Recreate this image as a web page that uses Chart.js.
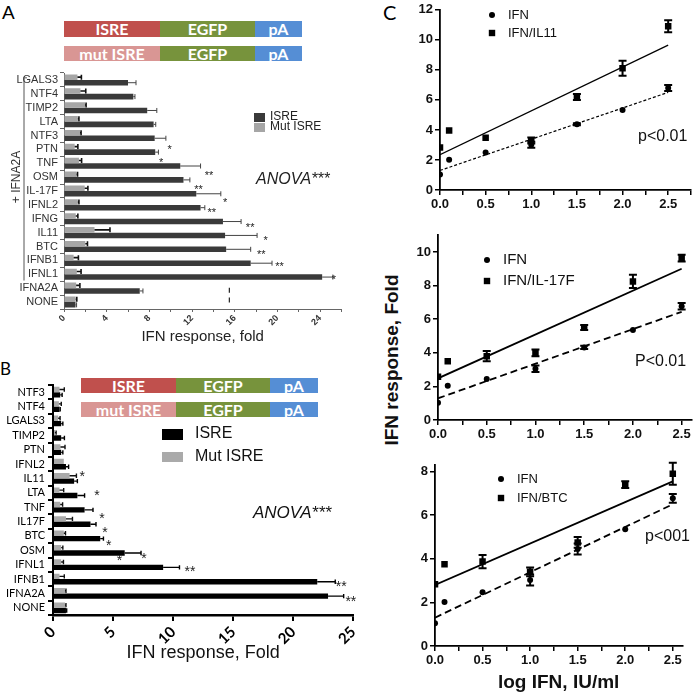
<!DOCTYPE html>
<html><head><meta charset="utf-8">
<script src="https://cdn.jsdelivr.net/npm/chart.js@4.4.1/dist/chart.umd.min.js"></script>
<style>
body{margin:0;background:#fff;}
#page{position:relative;width:696px;height:696px;overflow:hidden;background:#fff;font-family:"Liberation Sans",Arial,sans-serif;}
canvas{position:absolute;}
.box{position:absolute;display:flex;align-items:center;justify-content:center;color:#fff;font-family:Lato,"Noto Sans",sans-serif;font-weight:bold;font-size:16px;line-height:1;}
.lbl{position:absolute;line-height:1;white-space:nowrap;}
</style></head><body><div id="page">
<div class="lbl" style="left:2px;top:3px;font-size:19px;font-family:'Liberation Sans',Arial;">A</div>
<div class="lbl" style="left:0px;top:360px;font-size:17px;font-family:Lato,sans-serif;">B</div>
<div class="lbl" style="left:383px;top:2px;font-size:20px;font-family:Lato,sans-serif;">C</div>

<div class="box" style="left:64px;top:21px;width:96px;height:16px;background:#c0504d;">ISRE</div>
<div class="box" style="left:160px;top:21px;width:95px;height:16px;background:#77933c;">EGFP</div>
<div class="box" style="left:255px;top:21px;width:47px;height:16px;background:#558ed5;">pA</div>
<div class="box" style="left:64px;top:46px;width:96px;height:15px;background:#d99694;">mut ISRE</div>
<div class="box" style="left:160px;top:46px;width:95px;height:15px;background:#77933c;">EGFP</div>
<div class="box" style="left:255px;top:46px;width:47px;height:15px;background:#558ed5;">pA</div>

<div class="box" style="left:81px;top:378px;width:95px;height:15px;background:#c0504d;">ISRE</div>
<div class="box" style="left:176px;top:378px;width:94px;height:15px;background:#77933c;">EGFP</div>
<div class="box" style="left:270px;top:378px;width:48px;height:15px;background:#558ed5;">pA</div>
<div class="box" style="left:81px;top:402px;width:95px;height:15px;background:#d99694;">mut ISRE</div>
<div class="box" style="left:176px;top:402px;width:94px;height:15px;background:#77933c;">EGFP</div>
<div class="box" style="left:270px;top:402px;width:48px;height:15px;background:#558ed5;">pA</div>

<div class="lbl" style="left:292px;top:349px;width:200px;height:22px;line-height:22px;text-align:center;transform:rotate(-90deg);font-weight:bold;font-size:19px;color:#111;">IFN response, Fold</div>

<canvas id="cA" width="350" height="290" style="left:0;top:60px;"></canvas>
<canvas id="cB" width="368" height="321" style="left:0;top:375px;"></canvas>
<canvas id="c1" width="301" height="215" style="left:395px;top:0;"></canvas>
<canvas id="c2" width="301" height="222" style="left:395px;top:222px;"></canvas>
<canvas id="c3" width="301" height="246" style="left:395px;top:450px;"></canvas>
</div>
<script>
// ---------- Panel A data ----------
const catsA = ['LGALS3','NTF4','TIMP2','LTA','NTF3','PTN','TNF','OSM','IL-17F','IFNL2','IFNG','IL11','BTC','IFNB1','IFNL1','IFNA2A','NONE'];
const isreA = [6.0, 6.5, 7.8, 8.4, 8.5, 8.55, 10.9, 11.2, 12.4, 12.8, 14.9, 15.1, 15.2, 17.5, 24.2, 7.1, 1.08];
const isreErrA = [0.75, 0.15, 0.9, 0.2, 1.05, 0.3, 1.9, 0.6, 2.3, 0.4, 1.7, 3.0, 2.3, 2.0, 1.0, 0.3, 0.1];
const mutA = [1.26, 1.54, 1.97, 1.3, 1.5, 1.0, 1.4, 1.17, 1.94, 1.3, 1.1, 2.86, 2.0, 0.9, 1.2, 1.14, 1.1];
const mutErrA = [0.37, 0.5, 0.1, 0.1, 0.1, 0.3, 0.25, 0.1, 0.3, 0.1, 0.2, 1.45, 0.2, 0.45, 0.4, 0.35, 0.1];
const ticksA = [0, 4, 8, 12, 16, 20, 24];
const starIdxA = [4.82, 5.75, 6.7, 7.7, 8.7, 9.4, 10.5, 11.4, 12.4, 13.3, 14.2];
const starXA = [9.9, 9.1, 13.6, 12.6, 15.1, 13.85, 17.45, 18.9, 18.5, 20.2, 25.3];
const starTxtA = ['*','*','**','**','*','**','**','*','**','**','*'];

// ---------- Panel B data ----------
const catsB = ['NTF3','NTF4','LGALS3','TIMP2','PTN','IFNL2','IL11','LTA','TNF','IL17F','BTC','OSM','IFNL1','IFNB1','IFNA2A','NONE'];
const isreB = [0.6, 0.54, 0.68, 0.68, 0.68, 1.08, 1.76, 2.03, 2.63, 3.12, 3.93, 5.97, 9.17, 22.0, 22.9, 1.08];
const isreErrB = [0.16, 0.06, 0.14, 0.27, 0.14, 0.22, 0.27, 0.6, 0.7, 0.46, 0.27, 1.36, 1.36, 1.5, 1.3, 0.06];
const mutB = [0.54, 0.49, 0.43, 0.16, 0.62, 0.9, 1.38, 0.54, 0.6, 1.08, 0.9, 0.68, 0.68, 0.54, 1.0, 1.0];
const mutErrB = [0.4, 0.2, 0.16, 0.1, 0.38, 0.0, 0.57, 0.35, 0.2, 0.54, 0.14, 0.14, 0.19, 0.4, 0.08, 0.08];
const starIdxB = [5.7, 6.96, 8.56, 9.53, 10.5, 11.48, 11.4, 12.3, 13.29, 14.33];
const starXB = [2.44, 3.66, 4.07, 4.32, 4.64, 5.54, 7.57, 11.4, 24.0, 24.8];
const starTxtB = ['*','*','*','*','*','*','*','**','**','**'];

// ---------- Panel C data ----------
const doseX = [0, 0.1, 0.5, 1.0, 1.5, 2.0, 2.5];
const fitX = [0, 2.5];
const ifn1 = [1.04, 2.02, 2.5, 3.02, 4.38, 5.33, 6.8];
const ifn1Err = [0, 0, 0, 0.2, 0.06, 0, 0.2];
const il11 = [2.83, 3.96, 3.48, 3.3, 6.2, 8.1, 10.9];
const il11Err = [0, 0, 0, 0.2, 0.2, 0.5, 0.4];
const fitIl11 = [2.35, 9.65];
const fitIfn1 = [1.3, 6.5];

const ifn2 = [1.03, 2.04, 2.44, 3.05, 4.32, 5.35, 6.77];
const ifn2Err = [0, 0, 0, 0.2, 0.1, 0, 0.2];
const il17f = [2.57, 3.5, 3.8, 4.0, 5.5, 8.25, 9.64];
const il17fErr = [0, 0, 0.3, 0.2, 0.15, 0.4, 0.2];
const fitIl17f = [2.48, 9.0];
const fitIfn2 = [1.29, 6.44];

const ifn3 = [1.04, 2.02, 2.46, 3.03, 4.45, 5.35, 6.77];
const ifn3Err = [0, 0, 0, 0.25, 0.25, 0, 0.2];
const btc = [2.83, 3.75, 3.87, 3.4, 4.75, 7.4, 7.9];
const btcErr = [0, 0, 0.3, 0.2, 0.25, 0.15, 0.5];
const fitBtc = [2.8, 7.55];
const fitIfn3 = [1.3, 6.5];

// ---------- helpers ----------
const F = "'Liberation Sans', Arial, sans-serif";
const FL = "Lato, 'Open Sans', sans-serif";
const zip = (xs, ys) => xs.map((x, i) => ({x: x, y: ys[i]}));

function barErrors(chart, di, errs, color, lw, capFrac) {
  const ctx = chart.ctx, xs = chart.scales.x, ds = chart.data.datasets[di];
  const meta = chart.getDatasetMeta(di);
  ctx.save(); ctx.strokeStyle = color; ctx.lineWidth = lw;
  meta.data.forEach((el, j) => {
    const e = errs[j]; if (!e) return;
    const x1 = xs.getPixelForValue(ds.data[j]), x2 = xs.getPixelForValue(ds.data[j] + e);
    const h = el.height * capFrac;
    ctx.beginPath(); ctx.moveTo(x1, el.y); ctx.lineTo(x2, el.y);
    ctx.moveTo(x2, el.y - h / 2); ctx.lineTo(x2, el.y + h / 2); ctx.stroke();
  });
  ctx.restore();
}
function stars(chart, idx, xv, txt, size) {
  const ctx = chart.ctx, xs = chart.scales.x, ys = chart.scales.y;
  ctx.save(); ctx.fillStyle = '#222'; ctx.font = size + 'px ' + F;
  ctx.textAlign = 'center'; ctx.textBaseline = 'middle';
  idx.forEach((v, i) => ctx.fillText(txt[i], xs.getPixelForValue(xv[i]), ys.getPixelForValue(v) + size * 0.25));
  ctx.restore();
}
function pointErrors(chart, di, errs, lw, capW) {
  const ctx = chart.ctx, ys = chart.scales.y, ds = chart.data.datasets[di];
  const meta = chart.getDatasetMeta(di);
  ctx.save(); ctx.strokeStyle = '#000'; ctx.lineWidth = lw;
  meta.data.forEach((el, j) => {
    const e = errs[j]; if (!e) return;
    const v = ds.data[j].y;
    const y1 = ys.getPixelForValue(v - e), y2 = ys.getPixelForValue(v + e);
    ctx.beginPath(); ctx.moveTo(el.x, y1); ctx.lineTo(el.x, y2);
    ctx.moveTo(el.x - capW / 2, y1); ctx.lineTo(el.x + capW / 2, y1);
    ctx.moveTo(el.x - capW / 2, y2); ctx.lineTo(el.x + capW / 2, y2);
    ctx.stroke();
  });
  ctx.restore();
}

// ---------- Panel A ----------
const extrasA = {id: 'extrasA', afterDatasetsDraw(chart) {
  const ctx = chart.ctx, xs = chart.scales.x, ys = chart.scales.y;
  barErrors(chart, 0, mutErrA, '#111', 1.6, 0.9);
  barErrors(chart, 1, isreErrA, '#444', 1, 0.9);
  stars(chart, starIdxA, starXA, starTxtA, 11);
  // dashed marker
  ctx.save(); ctx.strokeStyle = '#222'; ctx.lineWidth = 1.2;
  [15.15, 15.85].forEach(v => {
    const x = xs.getPixelForValue(15.5), y = ys.getPixelForValue(v);
    ctx.beginPath(); ctx.moveTo(x, y - 2.5); ctx.lineTo(x, y + 2.5); ctx.stroke();
  });
  // bracket
  const yTop = ys.getPixelForValue(-0.15), yBot = ys.getPixelForValue(14.45);
  ctx.strokeStyle = '#555'; ctx.lineWidth = 1;
  ctx.beginPath(); ctx.moveTo(27, yTop); ctx.lineTo(24, yTop); ctx.lineTo(24, yBot); ctx.stroke();
  ctx.fillStyle = '#333'; ctx.font = '12px ' + F; ctx.textAlign = 'center'; ctx.textBaseline = 'middle';
  ctx.translate(17, 117); ctx.rotate(-Math.PI / 2); ctx.fillText('+ IFNA2A', 0, 0);
  ctx.restore();
  // legend
  ctx.save();
  ctx.fillStyle = '#3a3a3a'; ctx.fillRect(254, 53, 11, 9);
  ctx.fillStyle = '#a6a6a6'; ctx.fillRect(254, 63, 11, 9);
  ctx.fillStyle = '#222'; ctx.font = '12px ' + F; ctx.textAlign = 'left'; ctx.textBaseline = 'middle';
  ctx.fillText('ISRE', 270, 57); ctx.fillText('Mut ISRE', 270, 67);
  ctx.font = 'italic 16px ' + F; ctx.fillText('ANOVA***', 256, 120);
  ctx.restore();
}};

new Chart(document.getElementById('cA'), {
  type: 'bar',
  data: {labels: catsA, datasets: [
    {label: 'Mut ISRE', data: mutA, backgroundColor: '#a6a6a6', categoryPercentage: 0.8, barPercentage: 1},
    {label: 'ISRE', data: isreA, backgroundColor: '#3a3a3a', categoryPercentage: 0.8, barPercentage: 1}
  ]},
  options: {
    indexAxis: 'y', responsive: false, animation: false,
    layout: {padding: {top: 13, right: 4, bottom: 4, left: 0}},
    plugins: {legend: {display: false}, tooltip: {enabled: false}},
    scales: {
      x: {type: 'linear', min: 0, max: 26, afterFit: s => { s.height = 37; },
        ticks: {stepSize: 2, autoSkip: false, minRotation: 45, maxRotation: 45, padding: 1,
          font: {family: F, size: 9, weight: 'bold'}, color: '#333',
          callback: v => ticksA.includes(v) ? String(v) : ''},
        grid: {drawOnChartArea: false, tickLength: 3, color: '#666'},
        border: {color: '#666'},
        title: {display: true, text: 'IFN response, fold', font: {family: F, size: 15}, color: '#222', padding: 0}},
      y: {afterFit: s => { s.width = 64; },
        ticks: {autoSkip: false, font: {family: F, size: 11}, color: '#333', padding: 2},
        grid: {drawOnChartArea: false, tickLength: 4, color: '#666'},
        border: {color: '#666'}}
    }
  },
  plugins: [extrasA]
});

// ---------- Panel B ----------
const extrasB = {id: 'extrasB', afterDatasetsDraw(chart) {
  const ctx = chart.ctx;
  barErrors(chart, 0, mutErrB, '#111', 1.4, 0.8);
  barErrors(chart, 1, isreErrB, '#000', 1.4, 0.8);
  stars(chart, starIdxB, starXB, starTxtB, 14);
  ctx.save();
  ctx.fillStyle = '#000'; ctx.fillRect(162, 54, 21, 11);
  ctx.fillStyle = '#aaaaaa'; ctx.fillRect(162, 77, 21, 10);
  ctx.fillStyle = '#111'; ctx.font = '16px ' + F; ctx.textAlign = 'left'; ctx.textBaseline = 'middle';
  ctx.fillText('ISRE', 195, 59); ctx.fillText('Mut ISRE', 195, 82);
  ctx.font = 'italic 17px ' + F; ctx.fillText('ANOVA***', 253, 138);
  ctx.restore();
}};

new Chart(document.getElementById('cB'), {
  type: 'bar',
  data: {labels: catsB, datasets: [
    {label: 'Mut ISRE', data: mutB, backgroundColor: '#aaaaaa', categoryPercentage: 0.75, barPercentage: 1},
    {label: 'ISRE', data: isreB, backgroundColor: '#000000', categoryPercentage: 0.75, barPercentage: 1}
  ]},
  options: {
    indexAxis: 'y', responsive: false, animation: false,
    layout: {padding: {top: 10, right: 7.5, bottom: 32.2, left: 0}},
    plugins: {legend: {display: false}, tooltip: {enabled: false}},
    scales: {
      x: {type: 'linear', min: 0, max: 25, afterFit: s => { s.height = 48.8; },
        ticks: {stepSize: 5, autoSkip: false, minRotation: 45, maxRotation: 45, padding: 2,
          font: {family: FL, size: 15, weight: 'bold'}, color: '#000'},
        grid: {drawOnChartArea: false, tickLength: 6, color: '#000', lineWidth: 2},
        border: {color: '#000', width: 2.5},
        title: {display: true, text: 'IFN response, Fold', font: {family: F, size: 18}, color: '#111', padding: 0}},
      y: {afterFit: s => { s.width = 53; },
        ticks: {autoSkip: false, font: {family: FL, size: 11}, color: '#000', padding: 3},
        grid: {drawOnChartArea: false, tickLength: 5, color: '#000', lineWidth: 2},
        border: {color: '#000', width: 2}}
    }
  },
  plugins: [extrasB]
});

// ---------- Panel C ----------
function makeScatter(id, cfg) {
  const extras = {id: 'ex' + id, afterDatasetsDraw(chart) {
    const ctx = chart.ctx;
    pointErrors(chart, 0, cfg.ifnErr, 2, 8);
    pointErrors(chart, 1, cfg.otherErr, 2, 8);
    ctx.save();
    const [lx, ly1, ly2, tx] = cfg.legend;
    ctx.fillStyle = '#000';
    ctx.beginPath(); ctx.arc(lx, ly1, 3, 0, Math.PI * 2); ctx.fill();
    ctx.fillRect(lx - 3.2, ly2 - 3.2, 6.4, 6.4);
    ctx.font = cfg.legendFont + 'px ' + F; ctx.textAlign = 'left'; ctx.textBaseline = 'middle'; ctx.fillStyle = '#111';
    ctx.fillText('IFN', tx, ly1); ctx.fillText(cfg.otherName, tx, ly2);
    ctx.font = '16px ' + F; ctx.fillText(cfg.pText, cfg.pPos[0], cfg.pPos[1]);
    ctx.restore();
  }};
  const xt = {type: 'linear', min: 0, max: cfg.xmax, afterFit: s => { s.height = cfg.xh; },
    ticks: {stepSize: 0.25, includeBounds: false, autoSkip: false, maxRotation: 0, padding: 2,
      font: {family: F, size: 13, weight: 'bold'}, color: '#111',
      callback: v => Math.abs(v * 2 - Math.round(v * 2)) < 1e-6 ? v.toFixed(1) : ''},
    grid: {drawOnChartArea: false, tickLength: 5, color: '#000', lineWidth: 1.5},
    border: {color: '#000', width: 1.8}};
  if (cfg.xTitle) xt.title = {display: true, text: cfg.xTitle, font: {family: F, size: 19, weight: 'bold'}, color: '#111', padding: 0};
  new Chart(document.getElementById(id), {
    type: 'scatter',
    data: {datasets: [
      {label: 'IFN', data: zip(doseX, cfg.ifn), pointStyle: 'circle', pointRadius: 3, backgroundColor: '#000', borderColor: '#000', borderWidth: 0},
      {label: cfg.otherName, data: zip(doseX, cfg.other), pointStyle: 'rect', pointRadius: 4.6, backgroundColor: '#000', borderColor: '#000', borderWidth: 0},
      {label: 'fit ' + cfg.otherName, data: zip(fitX, cfg.fitOther), showLine: true, pointRadius: 0, borderColor: '#000', borderWidth: cfg.lw, fill: false},
      {label: 'fit IFN', data: zip(fitX, cfg.fitIfn), showLine: true, pointRadius: 0, borderColor: '#000', borderWidth: cfg.lw, borderDash: cfg.dash, fill: false}
    ]},
    options: {
      responsive: false, animation: false,
      layout: {padding: cfg.pad},
      plugins: {legend: {display: false}, tooltip: {enabled: false}},
      scales: {
        x: xt,
        y: {type: 'linear', min: 0, max: cfg.ymax, afterFit: s => { s.width = cfg.yw; },
          ticks: {stepSize: 2, includeBounds: false, padding: 2, font: {family: F, size: 13, weight: 'bold'}, color: '#111'},
          grid: {drawOnChartArea: false, tickLength: 5, color: '#000', lineWidth: 1.5},
          border: {color: '#000', width: 1.8}}
      }
    },
    plugins: [extras]
  });
}

makeScatter('c1', {ifn: ifn1, ifnErr: ifn1Err, other: il11, otherErr: il11Err, fitOther: fitIl11, fitIfn: fitIfn1,
  otherName: 'IFN/IL11', xmax: 2.75, ymax: 12, yw: 45, xh: 25, pad: {top: 6, right: 5, bottom: 0, left: 0},
  legend: [97, 15, 33, 113], legendFont: 13, pText: 'p<0.01', pPos: [243, 137], lw: 1.2, dash: [3, 2]});
makeScatter('c2', {ifn: ifn2, ifnErr: ifn2Err, other: il17f, otherErr: il17fErr, fitOther: fitIl17f, fitIfn: fitIfn2,
  otherName: 'IFN/IL-17F', xmax: 2.6, ymax: 11, yw: 43, xh: 24, pad: {top: 13.2, right: 1, bottom: 0, left: 0},
  legend: [92, 38, 59, 108], legendFont: 15, pText: 'P<0.01', pPos: [240, 140], lw: 1.8, dash: [7, 4]});
makeScatter('c3', {ifn: ifn3, ifnErr: ifn3Err, other: btc, otherErr: btcErr, fitOther: fitBtc, fitIfn: fitIfn3,
  otherName: 'IFN/BTC', xmax: 2.6, ymax: 8.3, yw: 40, xh: 48.4, pad: {top: 15, right: 13.7, bottom: 1.6, left: 0},
  legend: [106, 29, 48, 122], legendFont: 13, pText: 'p<001', pPos: [250, 87], lw: 1.8, dash: [7, 4],
  xTitle: 'log IFN, IU/ml'});
</script>
</body></html>
